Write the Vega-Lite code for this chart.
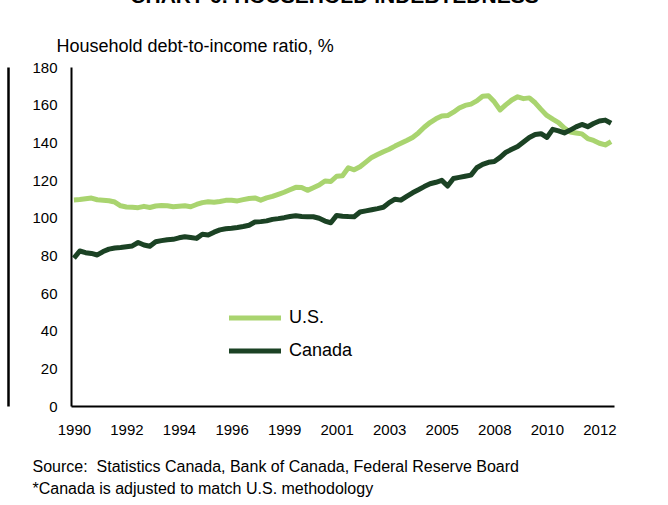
{
  "$schema": "https://vega.github.io/schema/vega-lite/v6.json",
  "width": 543,
  "height": 339,
  "autosize": "none",
  "padding": {"left": 71, "top": 67, "right": 54, "bottom": 99},
  "background": "white",
  "config": {
    "view": {"stroke": null},
    "font": "Liberation Sans",
    "axis": {"labelFont": "Liberation Sans", "titleFont": "Liberation Sans", "labelColor": "black", "titleColor": "black", "domainColor": "black", "domainWidth": 2, "ticks": false, "grid": false},
    "legend": {"labelFont": "Liberation Sans", "labelColor": "black"}
  },
  "title": {"text": "CHART 6: HOUSEHOLD INDEBTEDNESS", "fontSize": 21, "fontWeight": "bold", "font": "Liberation Sans", "color": "black", "anchor": "middle", "frame": "group", "baseline": "alphabetic", "offset": 14, "dx": -8},
  "data": {"values": [
{"quarter":"1990Q1","series":"U.S.","ratio":109.4},{"quarter":"1990Q2","series":"U.S.","ratio":109.6},{"quarter":"1990Q3","series":"U.S.","ratio":110},{"quarter":"1990Q4","series":"U.S.","ratio":110.4},
{"quarter":"1991Q1","series":"U.S.","ratio":109.5},{"quarter":"1991Q2","series":"U.S.","ratio":109.3},{"quarter":"1991Q3","series":"U.S.","ratio":109},{"quarter":"1991Q4","series":"U.S.","ratio":108.3},
{"quarter":"1992Q1","series":"U.S.","ratio":106.3},{"quarter":"1992Q2","series":"U.S.","ratio":105.7},{"quarter":"1992Q3","series":"U.S.","ratio":105.5},{"quarter":"1992Q4","series":"U.S.","ratio":105.3},
{"quarter":"1993Q1","series":"U.S.","ratio":106},{"quarter":"1993Q2","series":"U.S.","ratio":105.4},{"quarter":"1993Q3","series":"U.S.","ratio":106.2},{"quarter":"1993Q4","series":"U.S.","ratio":106.4},
{"quarter":"1994Q1","series":"U.S.","ratio":106.3},{"quarter":"1994Q2","series":"U.S.","ratio":105.8},{"quarter":"1994Q3","series":"U.S.","ratio":106.1},{"quarter":"1994Q4","series":"U.S.","ratio":106.3},
{"quarter":"1995Q1","series":"U.S.","ratio":105.8},{"quarter":"1995Q2","series":"U.S.","ratio":107},{"quarter":"1995Q3","series":"U.S.","ratio":108},{"quarter":"1995Q4","series":"U.S.","ratio":108.5},
{"quarter":"1996Q1","series":"U.S.","ratio":108.2},{"quarter":"1996Q2","series":"U.S.","ratio":108.6},{"quarter":"1996Q3","series":"U.S.","ratio":109.2},{"quarter":"1996Q4","series":"U.S.","ratio":109.3},
{"quarter":"1997Q1","series":"U.S.","ratio":108.9},{"quarter":"1997Q2","series":"U.S.","ratio":109.6},{"quarter":"1997Q3","series":"U.S.","ratio":110.2},{"quarter":"1997Q4","series":"U.S.","ratio":110.5},
{"quarter":"1998Q1","series":"U.S.","ratio":109.3},{"quarter":"1998Q2","series":"U.S.","ratio":110.5},{"quarter":"1998Q3","series":"U.S.","ratio":111.3},{"quarter":"1998Q4","series":"U.S.","ratio":112.4},
{"quarter":"1999Q1","series":"U.S.","ratio":113.5},{"quarter":"1999Q2","series":"U.S.","ratio":114.8},{"quarter":"1999Q3","series":"U.S.","ratio":116.1},{"quarter":"1999Q4","series":"U.S.","ratio":116},
{"quarter":"2000Q1","series":"U.S.","ratio":114.5},{"quarter":"2000Q2","series":"U.S.","ratio":115.9},{"quarter":"2000Q3","series":"U.S.","ratio":117.3},{"quarter":"2000Q4","series":"U.S.","ratio":119.5},
{"quarter":"2001Q1","series":"U.S.","ratio":119.2},{"quarter":"2001Q2","series":"U.S.","ratio":122},{"quarter":"2001Q3","series":"U.S.","ratio":122.3},{"quarter":"2001Q4","series":"U.S.","ratio":126.5},
{"quarter":"2002Q1","series":"U.S.","ratio":125.4},{"quarter":"2002Q2","series":"U.S.","ratio":127},{"quarter":"2002Q3","series":"U.S.","ratio":129.5},{"quarter":"2002Q4","series":"U.S.","ratio":132},
{"quarter":"2003Q1","series":"U.S.","ratio":133.5},{"quarter":"2003Q2","series":"U.S.","ratio":135},{"quarter":"2003Q3","series":"U.S.","ratio":136.3},{"quarter":"2003Q4","series":"U.S.","ratio":138},
{"quarter":"2004Q1","series":"U.S.","ratio":139.5},{"quarter":"2004Q2","series":"U.S.","ratio":141},{"quarter":"2004Q3","series":"U.S.","ratio":142.6},{"quarter":"2004Q4","series":"U.S.","ratio":145},
{"quarter":"2005Q1","series":"U.S.","ratio":148},{"quarter":"2005Q2","series":"U.S.","ratio":150.5},{"quarter":"2005Q3","series":"U.S.","ratio":152.5},{"quarter":"2005Q4","series":"U.S.","ratio":154},
{"quarter":"2006Q1","series":"U.S.","ratio":154.2},{"quarter":"2006Q2","series":"U.S.","ratio":156},{"quarter":"2006Q3","series":"U.S.","ratio":158.2},{"quarter":"2006Q4","series":"U.S.","ratio":159.6},
{"quarter":"2007Q1","series":"U.S.","ratio":160.3},{"quarter":"2007Q2","series":"U.S.","ratio":162},{"quarter":"2007Q3","series":"U.S.","ratio":164.5},{"quarter":"2007Q4","series":"U.S.","ratio":164.7},
{"quarter":"2008Q1","series":"U.S.","ratio":161.5},{"quarter":"2008Q2","series":"U.S.","ratio":157.2},{"quarter":"2008Q3","series":"U.S.","ratio":160},{"quarter":"2008Q4","series":"U.S.","ratio":162.5},
{"quarter":"2009Q1","series":"U.S.","ratio":164.2},{"quarter":"2009Q2","series":"U.S.","ratio":163.2},{"quarter":"2009Q3","series":"U.S.","ratio":163.6},{"quarter":"2009Q4","series":"U.S.","ratio":161},
{"quarter":"2010Q1","series":"U.S.","ratio":157.5},{"quarter":"2010Q2","series":"U.S.","ratio":154.3},{"quarter":"2010Q3","series":"U.S.","ratio":152.3},{"quarter":"2010Q4","series":"U.S.","ratio":150.5},
{"quarter":"2011Q1","series":"U.S.","ratio":147.6},{"quarter":"2011Q2","series":"U.S.","ratio":145.5},{"quarter":"2011Q3","series":"U.S.","ratio":145},{"quarter":"2011Q4","series":"U.S.","ratio":144.5},
{"quarter":"2012Q1","series":"U.S.","ratio":142},{"quarter":"2012Q2","series":"U.S.","ratio":141},{"quarter":"2012Q3","series":"U.S.","ratio":139.5},{"quarter":"2012Q4","series":"U.S.","ratio":138.6},
{"quarter":"2013Q1","series":"U.S.","ratio":140.4},
{"quarter":"1990Q1","series":"Canada","ratio":78.5},{"quarter":"1990Q2","series":"Canada","ratio":82.3},{"quarter":"1990Q3","series":"Canada","ratio":81.4},{"quarter":"1990Q4","series":"Canada","ratio":81},
{"quarter":"1991Q1","series":"Canada","ratio":80.2},{"quarter":"1991Q2","series":"Canada","ratio":82},{"quarter":"1991Q3","series":"Canada","ratio":83.3},{"quarter":"1991Q4","series":"Canada","ratio":83.9},
{"quarter":"1992Q1","series":"Canada","ratio":84.2},{"quarter":"1992Q2","series":"Canada","ratio":84.6},{"quarter":"1992Q3","series":"Canada","ratio":85},{"quarter":"1992Q4","series":"Canada","ratio":86.8},
{"quarter":"1993Q1","series":"Canada","ratio":85.5},{"quarter":"1993Q2","series":"Canada","ratio":84.8},{"quarter":"1993Q3","series":"Canada","ratio":87.2},{"quarter":"1993Q4","series":"Canada","ratio":87.8},
{"quarter":"1994Q1","series":"Canada","ratio":88.3},{"quarter":"1994Q2","series":"Canada","ratio":88.5},{"quarter":"1994Q3","series":"Canada","ratio":89.3},{"quarter":"1994Q4","series":"Canada","ratio":89.9},
{"quarter":"1995Q1","series":"Canada","ratio":89.5},{"quarter":"1995Q2","series":"Canada","ratio":89},{"quarter":"1995Q3","series":"Canada","ratio":91.2},{"quarter":"1995Q4","series":"Canada","ratio":90.8},
{"quarter":"1996Q1","series":"Canada","ratio":92.3},{"quarter":"1996Q2","series":"Canada","ratio":93.5},{"quarter":"1996Q3","series":"Canada","ratio":94.1},{"quarter":"1996Q4","series":"Canada","ratio":94.4},
{"quarter":"1997Q1","series":"Canada","ratio":94.8},{"quarter":"1997Q2","series":"Canada","ratio":95.3},{"quarter":"1997Q3","series":"Canada","ratio":96},{"quarter":"1997Q4","series":"Canada","ratio":97.7},
{"quarter":"1998Q1","series":"Canada","ratio":97.9},{"quarter":"1998Q2","series":"Canada","ratio":98.3},{"quarter":"1998Q3","series":"Canada","ratio":99.1},{"quarter":"1998Q4","series":"Canada","ratio":99.5},
{"quarter":"1999Q1","series":"Canada","ratio":100},{"quarter":"1999Q2","series":"Canada","ratio":100.6},{"quarter":"1999Q3","series":"Canada","ratio":101},{"quarter":"1999Q4","series":"Canada","ratio":100.6},
{"quarter":"2000Q1","series":"Canada","ratio":100.5},{"quarter":"2000Q2","series":"Canada","ratio":100.5},{"quarter":"2000Q3","series":"Canada","ratio":99.7},{"quarter":"2000Q4","series":"Canada","ratio":98.2},
{"quarter":"2001Q1","series":"Canada","ratio":97.3},{"quarter":"2001Q2","series":"Canada","ratio":101.2},{"quarter":"2001Q3","series":"Canada","ratio":100.8},{"quarter":"2001Q4","series":"Canada","ratio":100.6},
{"quarter":"2002Q1","series":"Canada","ratio":100.5},{"quarter":"2002Q2","series":"Canada","ratio":103},{"quarter":"2002Q3","series":"Canada","ratio":103.6},{"quarter":"2002Q4","series":"Canada","ratio":104.2},
{"quarter":"2003Q1","series":"Canada","ratio":104.8},{"quarter":"2003Q2","series":"Canada","ratio":105.5},{"quarter":"2003Q3","series":"Canada","ratio":108},{"quarter":"2003Q4","series":"Canada","ratio":109.8},
{"quarter":"2004Q1","series":"Canada","ratio":109.3},{"quarter":"2004Q2","series":"Canada","ratio":111.3},{"quarter":"2004Q3","series":"Canada","ratio":113.2},{"quarter":"2004Q4","series":"Canada","ratio":114.8},
{"quarter":"2005Q1","series":"Canada","ratio":116.5},{"quarter":"2005Q2","series":"Canada","ratio":118},{"quarter":"2005Q3","series":"Canada","ratio":118.8},{"quarter":"2005Q4","series":"Canada","ratio":119.8},
{"quarter":"2006Q1","series":"Canada","ratio":116.8},{"quarter":"2006Q2","series":"Canada","ratio":120.8},{"quarter":"2006Q3","series":"Canada","ratio":121.4},{"quarter":"2006Q4","series":"Canada","ratio":122},
{"quarter":"2007Q1","series":"Canada","ratio":122.6},{"quarter":"2007Q2","series":"Canada","ratio":126.5},{"quarter":"2007Q3","series":"Canada","ratio":128.3},{"quarter":"2007Q4","series":"Canada","ratio":129.4},
{"quarter":"2008Q1","series":"Canada","ratio":129.8},{"quarter":"2008Q2","series":"Canada","ratio":132},{"quarter":"2008Q3","series":"Canada","ratio":134.8},{"quarter":"2008Q4","series":"Canada","ratio":136.3},
{"quarter":"2009Q1","series":"Canada","ratio":137.8},{"quarter":"2009Q2","series":"Canada","ratio":140.2},{"quarter":"2009Q3","series":"Canada","ratio":142.6},{"quarter":"2009Q4","series":"Canada","ratio":144.2},
{"quarter":"2010Q1","series":"Canada","ratio":144.6},{"quarter":"2010Q2","series":"Canada","ratio":142.6},{"quarter":"2010Q3","series":"Canada","ratio":146.9},{"quarter":"2010Q4","series":"Canada","ratio":146.1},
{"quarter":"2011Q1","series":"Canada","ratio":145},{"quarter":"2011Q2","series":"Canada","ratio":146.5},{"quarter":"2011Q3","series":"Canada","ratio":148.2},{"quarter":"2011Q4","series":"Canada","ratio":149.5},
{"quarter":"2012Q1","series":"Canada","ratio":148.3},{"quarter":"2012Q2","series":"Canada","ratio":150},{"quarter":"2012Q3","series":"Canada","ratio":151.3},{"quarter":"2012Q4","series":"Canada","ratio":151.8},
{"quarter":"2013Q1","series":"Canada","ratio":150.1}
  ]},
  "layer": [
    {
      "mark": {"type": "line", "strokeWidth": 5, "strokeJoin": "round", "strokeCap": "butt"},
      "encoding": {
        "x": {
          "field": "quarter", "type": "ordinal", "sort": null,
          "scale": {"type": "point", "padding": 0.5},
          "axis": {
            "values": ["1990Q1","1992Q2","1994Q3","1996Q4","1999Q1","2001Q2","2003Q3","2005Q4","2008Q1","2010Q2","2012Q3"],
            "labelExpr": "substring(datum.label, 0, 4)",
            "labelAngle": 0, "labelFontSize": 15, "labelPadding": 16,
            "title": ["Source:\u00a0 Statistics Canada, Bank of Canada, Federal Reserve Board", "*Canada is adjusted to match U.S. methodology"],
            "titleFontSize": 16, "titleFontWeight": "normal", "titleAlign": "left", "titleBaseline": "alphabetic",
            "titleX": -39, "titleY": 65, "titleLineHeight": 22
          }
        },
        "y": {
          "field": "ratio", "type": "quantitative",
          "scale": {"domain": [0, 180], "nice": false, "zero": true},
          "axis": {
            "values": [0, 20, 40, 60, 80, 100, 120, 140, 160, 180],
            "labelFontSize": 15, "labelPadding": 14,
            "title": "Household debt-to-income ratio, %",
            "titleFontSize": 18, "titleFontWeight": "normal", "titleAngle": 0, "titleAlign": "left", "titleBaseline": "alphabetic",
            "titleX": -15, "titleY": -15.5
          }
        },
        "color": {
          "field": "series", "type": "nominal",
          "scale": {"domain": ["U.S.", "Canada"], "range": ["#a9d46f", "#1b4224"]},
          "legend": {
            "title": null, "orient": "none", "legendX": 196, "legendY": 242,
            "symbolType": "M-9.4,0H1", "symbolSize": 100, "symbolStrokeWidth": 5,
            "labelFontSize": 18, "labelOffset": 4, "rowPadding": 13, "padding": 0
          }
        }
      }
    },
    {
      "mark": {"type": "line", "strokeOpacity": 0},
      "encoding": {
        "x": {"field": "quarter", "type": "ordinal", "sort": null},
        "y": {
          "field": "ratio", "type": "quantitative",
          "axis": {"orient": "right", "offset": -606, "labels": false, "title": null, "domainWidth": 2.5}
        },
        "detail": {"field": "series"}
      }
    }
  ],
  "resolve": {"axis": {"y": "independent"}}
}
